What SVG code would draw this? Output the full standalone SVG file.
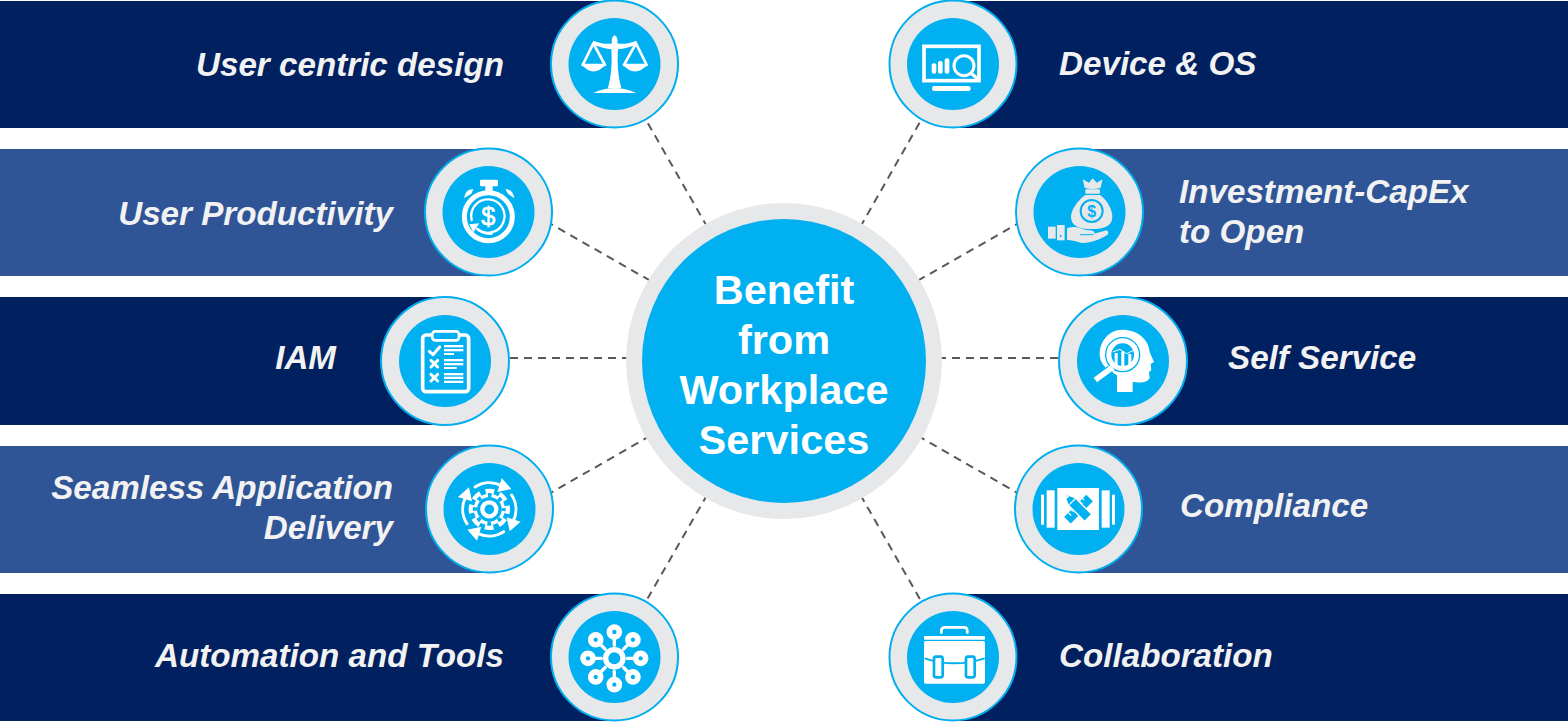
<svg xmlns="http://www.w3.org/2000/svg" xmlns:xlink="http://www.w3.org/1999/xlink" width="1568" height="722" viewBox="0 0 1568 722">
<style>
text{font-family:"Liberation Sans",Arial,sans-serif}
.lbl{font-size:33.2px;font-weight:bold;font-style:italic;fill:#f2f2f2}
.e{text-anchor:end}
.ctr{font-size:41.5px;font-weight:bold;fill:#fff;text-anchor:middle}
.navy{fill:#002060}
.mid{fill:#2f5597}
.ring{fill:#e7e8ea;stroke:#00aeef;stroke-width:2}
.disc{fill:#00b0f0}
.w{fill:#fff}
.b{fill:#00b0f0}
.sw{fill:none;stroke:#fff;stroke-linecap:round;stroke-linejoin:round}
.sb{fill:none;stroke:#00b0f0}
.conn line{stroke:#595959;stroke-width:2;stroke-dasharray:8 6}
.g{fill:#e7e8ea}
</style>
<defs>
<g id="sat"><circle cx="208" cy="123" r="15" class="sw" stroke-width="17"/><line x1="208" y1="144" x2="208" y2="163" class="sw" stroke-width="10"/></g>
<g id="arc"><path d="M165 135A80 80 0 0 1 243 130" class="sw" stroke-width="9"/><path d="M245 108L274 141L232 150Z" class="w"/></g>
</defs>
<rect width="1568" height="722" fill="#fff"/>
<g id="connectors" class="conn">
<line x1="784" y1="361" x2="614" y2="64"/>
<line x1="784" y1="361" x2="953" y2="64"/>
<line x1="784" y1="357" x2="500" y2="195"/>
<line x1="784" y1="357" x2="1068" y2="195"/>
<line x1="784" y1="358" x2="445" y2="358"/>
<line x1="784" y1="358" x2="1123" y2="358"/>
<line x1="784" y1="359" x2="500" y2="522"/>
<line x1="784" y1="359" x2="1068" y2="522"/>
<line x1="784" y1="361" x2="614" y2="657"/>
<line x1="784" y1="361" x2="953" y2="657"/>
</g>
<g id="node-user-centric">
<rect x="0" y="1" width="614" height="127" class="navy"/>
<circle cx="614.5" cy="64" r="63.5" class="ring"/><circle cx="614.5" cy="64" r="46" class="disc"/>
<g transform="translate(540 0) scale(.3333)">
<path class="w" d="M224 106C214 112 214 124 217 130C200 134 180 130 160 122L157 133C180 142 200 147 214 148C216 180 216 220 204 264L244 264C232 220 232 180 234 148C250 147 270 142 292 133L289 122C270 130 250 134 231 130C234 124 234 112 224 106Z"/>
<path class="w" d="M160 279Q224 249 288 279Z"/>
<path class="sw" stroke-width="8" d="M160 130L128 195H195Z"/><path class="w" d="M124 193Q160 236 198 193Z"/>
<path class="sw" stroke-width="8" d="M288 130L252 195H320Z"/><path class="w" d="M247 193Q285 236 324 193Z"/>
</g>
<text x="504" y="76" class="lbl e">User centric design</text>
</g>
<g id="node-device-os">
<rect x="953" y="1" width="615" height="127" class="navy"/>
<circle cx="953" cy="64" r="63.5" class="ring"/><circle cx="953" cy="64" r="46" class="disc"/>
<g transform="translate(880 0) scale(.3333)">
<rect x="132" y="139" width="165" height="103" fill="none" stroke="#fff" stroke-width="11"/>
<rect x="155" y="190" width="14" height="31" rx="6" class="w"/><rect x="174" y="183" width="14" height="38" rx="6" class="w"/><rect x="194" y="175" width="14" height="46" rx="6" class="w"/>
<circle cx="252" cy="197" r="30" class="b" stroke="#fff" stroke-width="9"/>
<line x1="276" y1="222" x2="297" y2="240" class="sw" stroke-width="10"/>
<rect x="156" y="258" width="116" height="15" rx="7" class="w"/>
</g>
<text x="1059" y="75" class="lbl">Device &amp; OS</text>
</g>
<g id="node-user-productivity">
<rect x="0" y="149" width="488" height="127" class="mid"/>
<circle cx="488.5" cy="212" r="63.5" class="ring"/><circle cx="488.5" cy="212" r="46" class="disc"/>
<g transform="translate(420 145) scale(.3333)">
<rect x="180" y="104" width="54" height="20" rx="4" class="w"/><rect x="196" y="120" width="22" height="22" class="w"/>
<path class="w" d="M132 160Q136 132 160 133L154 146Z"/><path class="w" d="M256 133Q278 132 283 160L264 146Z"/>
<circle cx="205" cy="215" r="72" fill="none" stroke="#fff" stroke-width="15"/>
<path class="sw" stroke-width="7" d="M155 225A50 50 0 1 1 172 252"/><path class="sw" stroke-width="7" d="M172 252Q190 268 215 266"/>
<path class="w" d="M148 238L178 235L160 262Z"/>
<text x="205" y="241" font-size="76" class="w" stroke="#fff" stroke-width="2" text-anchor="middle">$</text>
</g>
<text x="393" y="225" class="lbl e">User Productivity</text>
</g>
<g id="node-investment">
<rect x="1079" y="149" width="489" height="127" class="mid"/>
<circle cx="1079.5" cy="212" r="63.5" class="ring"/><circle cx="1079.5" cy="212" r="46" class="disc"/>
<g transform="translate(1010 145) scale(.3333)">
<path class="g" d="M218 103L237 113L248 100L260 113L278 103L272 128Q248 136 224 128Z"/><rect x="226" y="133" width="44" height="13" rx="2" class="g"/>
<path class="g" d="M226 150L270 150C292 165 307 195 307 215C307 242 285 252 245 252C205 252 183 242 183 215C183 195 204 165 226 150Z"/>
<circle cx="245" cy="198" r="33" class="g" stroke="#00b0f0" stroke-width="6"/>
<text x="245" y="215" font-size="48" font-weight="bold" class="b" text-anchor="middle">$</text>
<rect x="114" y="245" width="23" height="36" class="g"/><rect x="141" y="240" width="23" height="46" class="g"/><circle cx="152" cy="273" r="3" class="b"/>
<path class="g" d="M171 250Q190 243 208 248Q225 256 240 256Q258 258 252 266L290 256Q300 261 291 271Q250 295 215 294Q195 287 171 284Z"/>
<path class="sb" stroke-width="3" d="M210 269H250"/>
</g>
<text x="1179" y="203" class="lbl">Investment-CapEx</text>
<text x="1179" y="243" class="lbl">to Open</text>
</g>
<g id="node-iam">
<rect x="0" y="297" width="445" height="128" class="navy"/>
<circle cx="445" cy="361" r="64" class="ring"/><circle cx="445" cy="361" r="46" class="disc"/>
<g transform="translate(375 292) scale(.3333)">
<rect x="143" y="129" width="138" height="170" rx="10" fill="none" stroke="#fff" stroke-width="11"/>
<rect x="172" y="118" width="80" height="27" rx="9" class="b" stroke="#fff" stroke-width="8"/>
<path class="sw" stroke-width="9" fill="none" d="M163 178L174 188L194 165"/>
<path class="sw" stroke-width="9" d="M168 205L188 225M188 205L168 225M168 247L188 267M188 247L168 267"/>
<g class="w"><rect x="207" y="159" width="58" height="7"/><rect x="207" y="171" width="58" height="7"/><rect x="207" y="183" width="30" height="6"/><rect x="207" y="201" width="58" height="7"/><rect x="207" y="213" width="58" height="7"/><rect x="207" y="225" width="38" height="6"/><rect x="207" y="243" width="58" height="7"/><rect x="207" y="254" width="58" height="7"/><rect x="207" y="266" width="58" height="7"/></g>
</g>
<text x="336" y="369" class="lbl e">IAM</text>
</g>
<g id="node-self-service">
<rect x="1123" y="297" width="445" height="128" class="navy"/>
<circle cx="1123" cy="361" r="64" class="ring"/><circle cx="1123" cy="361" r="46" class="disc"/>
<g transform="translate(1052 292) scale(.3333)">
<path class="w" d="M210 113C255 113 290 140 293 180L306 210L296 216L298 235L291 240L293 258C285 274 262 272 242 270L242 300L195 300L195 250L170 235C152 220 143 205 143 185C143 150 170 113 210 113Z"/>
<circle cx="212" cy="188" r="51" fill="none" stroke="#00b0f0" stroke-width="4"/>
<circle cx="212" cy="188" r="39" class="b" stroke="#fff" stroke-width="10"/>
<rect x="188" y="183" width="9" height="40" class="w"/><rect x="208" y="178" width="9" height="47" class="w"/><rect x="229" y="186" width="9" height="36" class="w"/>
<path fill="none" stroke="#fff" stroke-width="3" d="M182 180L204 172L224 185L250 172"/>
<line x1="176" y1="232" x2="130" y2="266" stroke="#00b0f0" stroke-width="26"/>
<line x1="182" y1="226" x2="130" y2="264" stroke="#fff" stroke-width="17"/>
</g>
<text x="1228" y="369" class="lbl">Self Service</text>
</g>
<g id="node-seamless">
<rect x="0" y="446" width="489" height="127" class="mid"/>
<circle cx="489.5" cy="509" r="63.5" class="ring"/><circle cx="489.5" cy="509" r="46" class="disc"/>
<g transform="translate(420 442) scale(.3333)">
<circle cx="208" cy="202" r="47" class="w"/>
<circle cx="208" cy="202" r="54" fill="none" stroke="#fff" stroke-width="16" stroke-dasharray="26 16.41" stroke-dashoffset="13"/>
<circle cx="208" cy="202" r="37" class="b"/>
<circle cx="208" cy="202" r="43" class="sb" stroke-width="12" stroke-dasharray="11 22.77" stroke-dashoffset="5.5"/>
<circle cx="208" cy="202" r="21" fill="none" stroke="#fff" stroke-width="13"/>
<use xlink:href="#arc" href="#arc"/>
<use xlink:href="#arc" href="#arc" transform="rotate(90 208 202)"/>
<use xlink:href="#arc" href="#arc" transform="rotate(180 208 202)"/>
<use xlink:href="#arc" href="#arc" transform="rotate(270 208 202)"/>
</g>
<text x="393" y="499" class="lbl e">Seamless Application</text>
<text x="393" y="539" class="lbl e">Delivery</text>
</g>
<g id="node-compliance">
<rect x="1078" y="446" width="490" height="127" class="mid"/>
<circle cx="1078.5" cy="509" r="63.5" class="ring"/><circle cx="1078.5" cy="509" r="46" class="disc"/>
<g transform="translate(1010 442) scale(.3333)">
<rect x="142" y="138" width="125" height="126" class="w"/><rect x="110" y="145" width="24" height="112" class="w"/><rect x="275" y="145" width="24" height="112" class="w"/><rect x="93" y="158" width="9" height="90" class="w"/><rect x="306" y="158" width="9" height="90" class="w"/>
<g transform="rotate(-45 207 200)">
<rect x="158" y="186" width="94" height="28" class="b"/>
<path d="M176 186v12M188 186v7M200 186v12M212 186v7M224 186v12M236 186v7" stroke="#fff" stroke-width="3.5"/>
</g>
<g transform="rotate(45 207 200)">
<rect x="166" y="183" width="84" height="34" class="w"/>
<path class="b" d="M176 187H244V213H176L147 200Z"/>
<path d="M178 187V213" stroke="#fff" stroke-width="3.5"/>
<path d="M147 200L160 194V206Z" class="w"/>
</g>
</g>
<text x="1180" y="517" class="lbl">Compliance</text>
</g>
<g id="node-automation">
<rect x="0" y="594" width="614" height="127" class="navy"/>
<circle cx="614.5" cy="657" r="63.5" class="ring"/><circle cx="614.5" cy="657" r="46" class="disc"/>
<g transform="translate(545 590) scale(.3333)">
<circle cx="208" cy="205" r="26" fill="none" stroke="#fff" stroke-width="16"/>
<g transform="translate(0 3)">
<use xlink:href="#sat" href="#sat" transform="rotate(0 208 202)"/>
<use xlink:href="#sat" href="#sat" transform="rotate(45 208 202)"/>
<use xlink:href="#sat" href="#sat" transform="rotate(90 208 202)"/>
<use xlink:href="#sat" href="#sat" transform="rotate(135 208 202)"/>
<use xlink:href="#sat" href="#sat" transform="rotate(180 208 202)"/>
<use xlink:href="#sat" href="#sat" transform="rotate(225 208 202)"/>
<use xlink:href="#sat" href="#sat" transform="rotate(270 208 202)"/>
<use xlink:href="#sat" href="#sat" transform="rotate(315 208 202)"/>
</g>
</g>
<text x="504" y="667" class="lbl e">Automation and Tools</text>
</g>
<g id="node-collaboration">
<rect x="953" y="594" width="615" height="127" class="navy"/>
<circle cx="953" cy="657" r="63.5" class="ring"/><circle cx="953" cy="657" r="46" class="disc"/>
<g transform="translate(884 590) scale(.3333)">
<path class="sw" stroke-width="8" d="M172 128V123Q172 112 183 112H240Q250 112 250 123V128"/>
<rect x="120" y="138" width="183" height="11" rx="3" class="w"/>
<rect x="120" y="153" width="183" height="128" rx="5" class="w"/>
<path class="sb" stroke-width="6" d="M122 205Q210 235 302 205"/>
<rect x="150" y="200" width="26" height="62" rx="6" class="w" stroke="#00b0f0" stroke-width="8"/>
<rect x="246" y="200" width="26" height="62" rx="6" class="w" stroke="#00b0f0" stroke-width="8"/>
</g>
<text x="1059" y="667" class="lbl">Collaboration</text>
</g>
<g id="node-center">
<circle cx="784" cy="361" r="158" fill="#e7e8ea"/>
<circle cx="784" cy="361" r="142" class="disc"/>
<text x="784" y="304" class="ctr">Benefit</text>
<text x="784" y="354" class="ctr">from</text>
<text x="784" y="404" class="ctr">Workplace</text>
<text x="784" y="454" class="ctr">Services</text>
</g>
</svg>
